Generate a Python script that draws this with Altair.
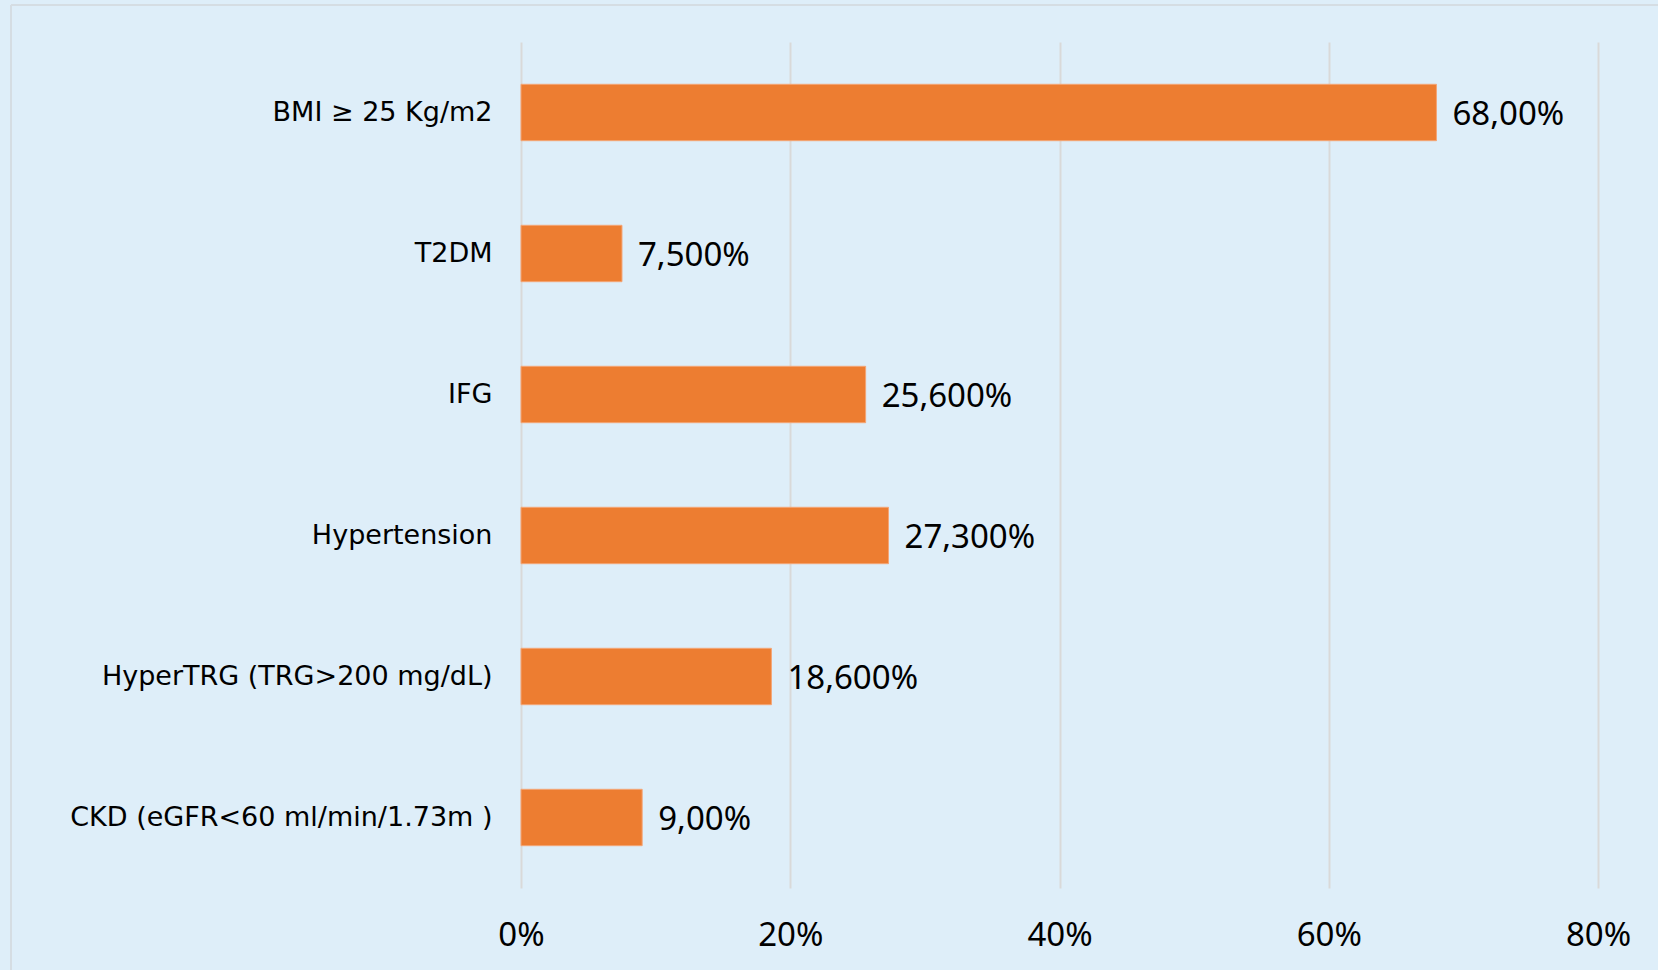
import altair as alt
import pandas as pd

categories = [
    "BMI ≥ 25 Kg/m2",
    "T2DM",
    "IFG",
    "Hypertension",
    "HyperTRG (TRG>200 mg/dL)",
    "CKD (eGFR<60 ml/min/1.73m )",
]
values = [68.0, 7.5, 25.6, 27.3, 18.6, 9.0]
value_labels = ["68,00%", "7,500%", "25,600%", "27,300%", "18,600%", "9,00%"]
x_ticks = [0, 20, 40, 60, 80]

df = pd.DataFrame({"cat": categories, "val": values, "lab": value_labels})

FONT = "Noto Sans"
YFONT = "DejaVu Sans"
BG = "#DEEEF9"

x_enc = alt.X(
    "val:Q",
    scale=alt.Scale(domain=[0, 80], nice=False),
    axis=alt.Axis(
        values=x_ticks,
        labelExpr="datum.value + '%'",
        title=None,
        domain=False,
        ticks=False,
        grid=True,
        gridColor="#D9D9D9",
        gridWidth=2,
        labelFont=FONT,
        labelFontSize=33,
        labelColor="#000000",
        labelPadding=31,
        labelFlush=False,
        labelOverlap=False,
    ),
)
y_enc = alt.Y(
    "cat:N",
    sort=categories,
    scale=alt.Scale(paddingInner=0.6, paddingOuter=0.3),
    axis=alt.Axis(
        title=None,
        domain=False,
        ticks=False,
        grid=False,
        labelFont=YFONT,
        labelFontSize=27,
        labelColor="#000000",
        labelPadding=29,
        labelLimit=600,
    ),
)

bars = alt.Chart(df).mark_bar(color="#ED7D31", stroke="#F4A576", strokeWidth=1).encode(x=x_enc, y=y_enc)
text = alt.Chart(df).mark_text(
    align="left", baseline="middle", dx=16, dy=2, font=FONT, fontSize=33, color="#000000"
).encode(x="val:Q", y=alt.Y("cat:N", sort=categories), text="lab:N")

border_top = alt.Chart(df).mark_rule(color="#D5DDE3", strokeWidth=2).encode(
    x=alt.value(-510), x2=alt.value(1200), y=alt.value(-37)
)
border_left = alt.Chart(df).mark_rule(color="#D5DDE3", strokeWidth=2).encode(
    x=alt.value(-510), y=alt.value(-37), y2=alt.value(1000)
)

chart = (
    alt.layer(border_top, border_left, bars, text)
    .properties(
        width=1077,
        height=846,
        background=BG,
        padding={"left": 521, "top": 42, "right": 60, "bottom": 82},
        autosize=alt.AutoSizeParams(type="none"),
    )
    .configure_view(stroke=None, fill=BG)
)

chart.save("out.html", embed_options={"renderer": "svg", "actions": False})
